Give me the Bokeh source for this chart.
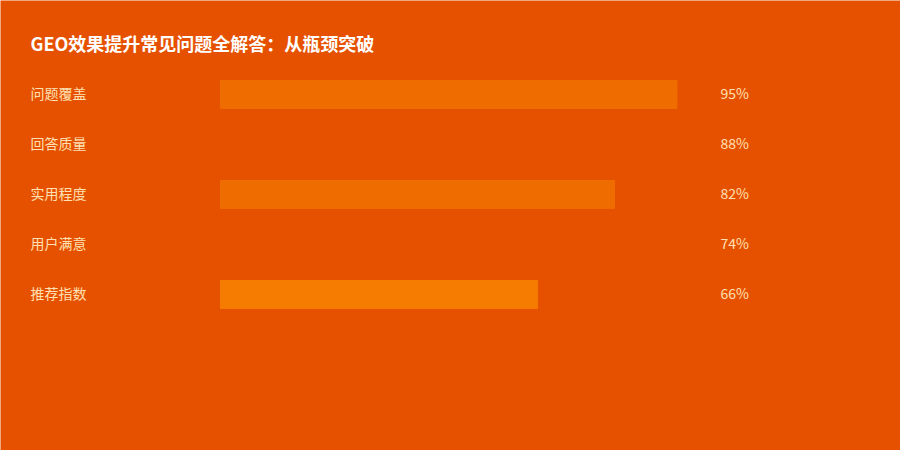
from bokeh.plotting import figure
from bokeh.models import Range1d, ColumnDataSource
from bokeh.core.properties import value
from bokeh.embed import file_html
from bokeh.resources import INLINE

title = "GEO效果提升常见问题全解答：从瓶颈突破"
categories = ["问题覆盖", "回答质量", "实用程度", "用户满意", "推荐指数"]
values = [95, 88, 82, 74, 66]
bar_colors = ["#EF6C00", "#E65100", "#EF6C00", "#E65100", "#F57C00"]

W, H = 900, 450
bg = "#E65100"
# pixel layout
x0_px = 220          # where 0% sits
px_per_pct = 4.805
row0_px = 94
row_step = 50

xs = -x0_px / px_per_pct
p = figure(width=W, height=H, output_backend="svg", toolbar_location=None,
           x_range=Range1d(xs, xs + W / px_per_pct), y_range=Range1d(H, 0),
           min_border=0)
p.axis.visible = False
p.grid.visible = False
p.outline_line_color = None
p.background_fill_color = bg
p.border_fill_color = bg

ys = [row0_px + row_step * i for i in range(len(categories))]
src = ColumnDataSource(dict(cat=categories, val=values, y=ys, color=bar_colors,
                            lbl=[f"{v}%" for v in values]))

p.hbar(y="y", left=0, right="val", height=28, color="color", source=src)

font = value("Noto Sans CJK SC")
p.text(x=(30 - x0_px) / px_per_pct, y="y", text="cat", source=src,
       text_font=font, text_font_size="14px", text_color="#FFE0B2",
       text_baseline="middle", y_offset=-2)
p.text(x=(720 - x0_px) / px_per_pct, y="y", text="lbl", source=src,
       text_font=font, text_font_size="14px", text_color="#FFE0B2",
       text_baseline="middle", y_offset=-2)
p.text(x=[(30 - x0_px) / px_per_pct], y=[44], text=[title],
       text_font=font, text_font_size="18px", text_font_style="bold",
       text_color="#FFFFFF", text_baseline="middle", y_offset=-2)

open("out.html", "w").write(file_html(p, INLINE))
